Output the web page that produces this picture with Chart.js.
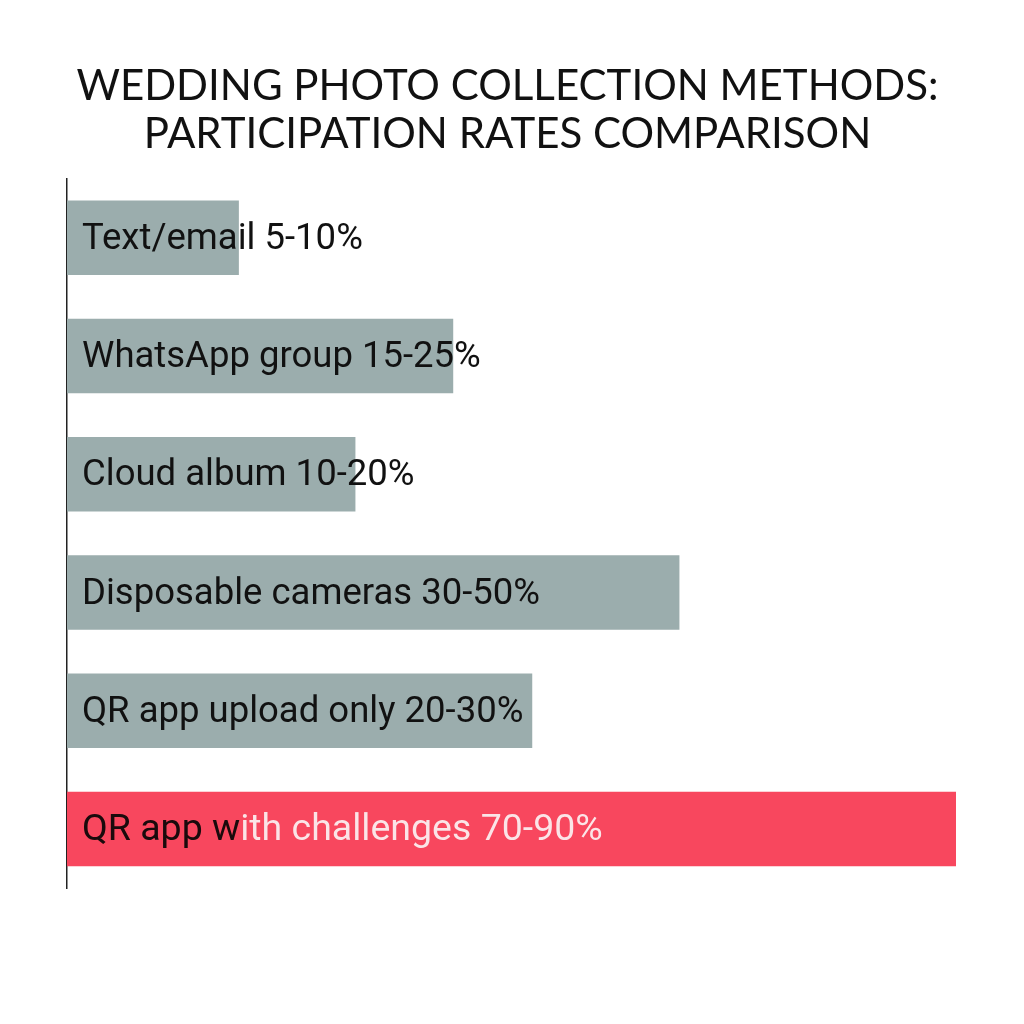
<!DOCTYPE html>
<html>
<head>
<meta charset="utf-8">
<script src="https://cdn.jsdelivr.net/npm/chart.js@4"></script>
<style>
html,body{margin:0;padding:0;background:#fff;}
#wrap{width:1024px;height:1024px;}
</style>
</head>
<body>
<div id="wrap"><canvas id="c" width="1024" height="1024"></canvas></div>
<script>
const categories = ["Text/email", "WhatsApp group", "Cloud album", "Disposable cameras", "QR app upload only", "QR app with challenges"];
const rangeLabels = ["5-10%", "15-25%", "10-20%", "30-50%", "20-30%", "70-90%"];
const barValues = [17.4, 39.1, 29.2, 62.0, 47.1, 90];
const barColors = ["#9badad", "#9badad", "#9badad", "#9badad", "#9badad", "#f8475e"];
const titleLines = ["WEDDING PHOTO COLLECTION METHODS:", "PARTICIPATION RATES COMPARISON"];

const labelPlugin = {
  id: 'inLabels',
  afterDatasetsDraw(chart) {
    const ctx = chart.ctx;
    const meta = chart.getDatasetMeta(0);
    ctx.save();
    ctx.textBaseline = 'middle';
    ctx.textAlign = 'left';
    meta.data.forEach((bar, i) => {
      const text = categories[i] + ' ' + rangeLabels[i];
      const x = bar.base + 15;
      if (i === categories.length - 1) {
        ctx.font = '37.5px Roboto';
        const g = ctx.createLinearGradient(x, 0, x + 400, 0);
        const stop = (242 - x) / 400;
        g.addColorStop(0, '#1a0a0c');
        g.addColorStop(stop, '#1a0a0c');
        g.addColorStop(stop + 0.001, '#fbe4e7');
        g.addColorStop(1, '#fbe4e7');
        ctx.fillStyle = g;
      } else {
        ctx.font = '36.5px Roboto';
        ctx.fillStyle = '#111';
      }
      ctx.fillText(text, x, bar.y + 2);
    });
    ctx.restore();
  }
};

new Chart(document.getElementById('c'), {
  type: 'bar',
  data: {
    labels: categories,
    datasets: [{
      data: barValues,
      backgroundColor: barColors,
      borderWidth: 0,
      categoryPercentage: 0.63,
      barPercentage: 1.0
    }]
  },
  options: {
    indexAxis: 'y',
    responsive: false,
    animation: false,
    layout: { padding: { left: 59, right: 68, top: 0, bottom: 136 } },
    plugins: {
      legend: { display: false },
      tooltip: { enabled: false },
      title: {
        display: true,
        text: titleLines,
        color: '#111',
        font: { family: 'Lato', size: 42, weight: 'normal', lineHeight: 1.15 },
        padding: { top: 62, bottom: 20 }
      }
    },
    scales: {
      x: {
        min: 0, max: 90,
        display: false
      },
      y: {
        grid: { display: false },
        ticks: { display: false },
        border: { display: true, color: '#222', width: 1.5 }
      }
    }
  },
  plugins: [labelPlugin]
});
</script>
</body>
</html>
